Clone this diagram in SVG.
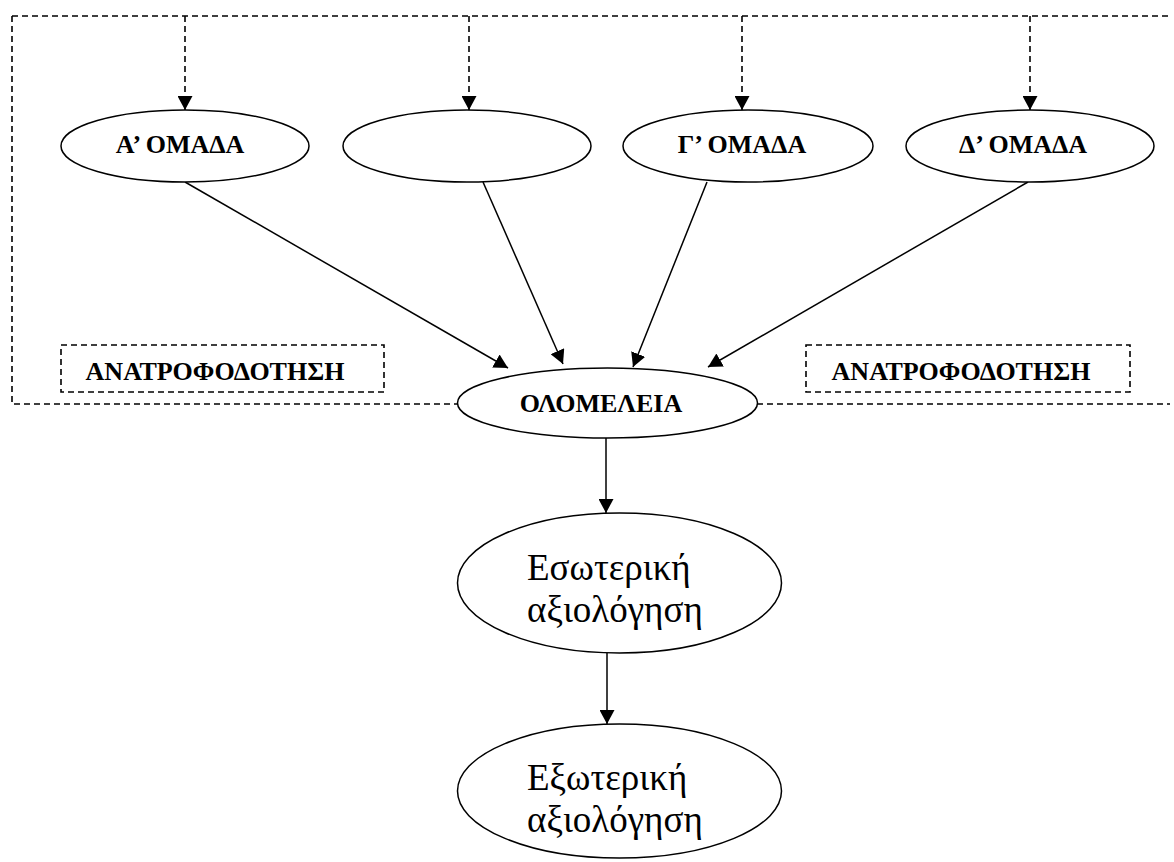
<svg xmlns="http://www.w3.org/2000/svg" width="1174" height="862" viewBox="0 0 1174 862">
  <defs>
    <marker id="arr" markerUnits="userSpaceOnUse" markerWidth="15" markerHeight="15" refX="14" refY="7.5" orient="auto" viewBox="0 0 15 15">
      <path d="M0,0 L14,7.5 L0,15 z" fill="#000" stroke="none"/>
    </marker>
  </defs>
  <style>
    .node { fill: #fff; stroke: #000; stroke-width: 1.5; }
    .dash { fill: none; stroke: #000; stroke-width: 1.6; stroke-dasharray: 6 4; }
    .solid { fill: none; stroke: #000; stroke-width: 1.5; }
    .lbl { font-family: "Liberation Serif", "Times New Roman", serif; font-weight: bold; font-size: 26px; fill: #000; text-anchor: middle; }
    .big { font-family: "Liberation Serif", "Times New Roman", serif; font-size: 37px; fill: #000; text-anchor: start; }
  </style>
  <rect width="1174" height="862" fill="#fff"/>

  <g id="connectors">
    <path class="dash" d="M12,16 H1170"/>
    <path class="dash" d="M12,16 V404 H458"/>
    <path class="dash" d="M757,404 H1170"/>
    <line class="dash" x1="185" y1="16" x2="185" y2="110" marker-end="url(#arr)"/>
    <line class="dash" x1="469" y1="16" x2="469" y2="110" marker-end="url(#arr)"/>
    <line class="dash" x1="742" y1="16" x2="742" y2="110" marker-end="url(#arr)"/>
    <line class="dash" x1="1030" y1="16" x2="1030" y2="110" marker-end="url(#arr)"/>
    <line class="solid" x1="185" y1="182" x2="508" y2="368" marker-end="url(#arr)"/>
    <line class="solid" x1="483" y1="182" x2="563" y2="364" marker-end="url(#arr)"/>
    <line class="solid" x1="707" y1="182" x2="633" y2="367" marker-end="url(#arr)"/>
    <line class="solid" x1="1028" y1="182" x2="708" y2="367" marker-end="url(#arr)"/>
    <line class="solid" x1="606" y1="438" x2="606" y2="513" marker-end="url(#arr)"/>
    <line class="solid" x1="607" y1="653" x2="607" y2="724" marker-end="url(#arr)"/>
  </g>

  <g id="groupA">
    <ellipse class="node" cx="185" cy="146" rx="124" ry="36"/>
    <text class="lbl" x="180" y="153">Α’ ΟΜΑΔΑ</text>
  </g>
  <g id="groupB">
    <ellipse class="node" cx="467" cy="146" rx="124" ry="36"/>
  </g>
  <g id="groupC">
    <ellipse class="node" cx="748" cy="146" rx="125" ry="36"/>
    <text class="lbl" x="742" y="153">Γ’ ΟΜΑΔΑ</text>
  </g>
  <g id="groupD">
    <ellipse class="node" cx="1030" cy="146" rx="124" ry="36"/>
    <text class="lbl" x="1023" y="153">Δ’ ΟΜΑΔΑ</text>
  </g>

  <g id="feedbackLeft">
    <rect class="dash" x="61" y="345" width="323" height="47"/>
    <text class="lbl" x="215" y="380">ΑΝΑΤΡΟΦΟΔΟΤΗΣΗ</text>
  </g>
  <g id="feedbackRight">
    <rect class="dash" x="806" y="345" width="324" height="47"/>
    <text class="lbl" x="961" y="380">ΑΝΑΤΡΟΦΟΔΟΤΗΣΗ</text>
  </g>

  <g id="plenary">
    <ellipse class="node" cx="607.5" cy="403" rx="150" ry="35"/>
    <text class="lbl" x="601" y="412">ΟΛΟΜΕΛΕΙΑ</text>
  </g>

  <g id="internal">
    <ellipse class="node" cx="619.5" cy="583" rx="162" ry="70"/>
    <text class="big" x="527" y="580">Εσωτερική</text>
    <text class="big" x="527" y="622">αξιολόγηση</text>
  </g>

  <g id="external">
    <ellipse class="node" cx="619.5" cy="791" rx="162" ry="67"/>
    <text class="big" x="527" y="790">Εξωτερική</text>
    <text class="big" x="527" y="832">αξιολόγηση</text>
  </g>
</svg>
